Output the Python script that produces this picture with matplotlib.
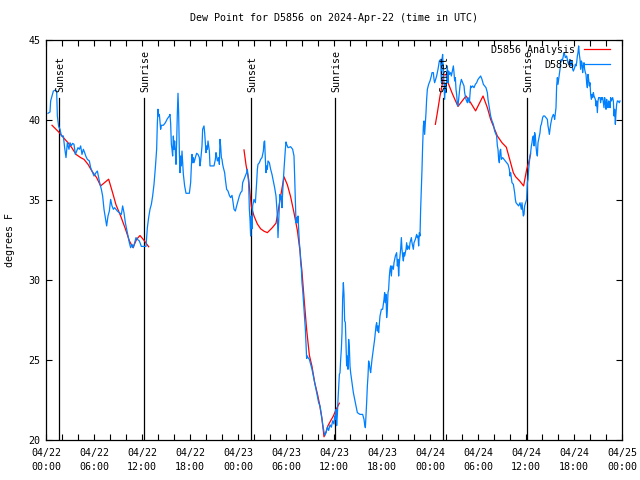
import numpy as np
import matplotlib
matplotlib.use("Agg")
import matplotlib.pyplot as plt

# hours since 2024-04-22 00:00 UTC, dew point in degrees F
obs_hours = [
    0.25, 0.5, 0.58, 0.92, 1.21, 1.33, 1.42, 1.58, 1.75, 1.92, 2.17, 2.33, 2.5, 2.67, 2.87,
    3.0, 3.17, 3.33, 3.5, 3.67, 3.83, 4.0, 4.17, 4.33, 4.5, 4.67, 4.83, 5.0, 5.17, 5.42,
    5.58, 5.83, 6.0, 6.25, 6.42, 6.58, 6.75, 6.92, 7.08, 7.25, 7.42, 7.58, 7.75, 7.92, 8.08,
    8.25, 8.42, 8.58, 8.75, 8.92, 9.17, 9.42, 9.58, 9.75, 9.92, 10.08, 10.25, 10.42, 10.58,
    10.75, 10.92, 11.08, 11.25, 11.42, 11.67, 11.92, 12.17, 12.5, 12.67,
    12.83, 13.0, 13.17, 13.33, 13.5, 13.67, 13.83, 13.92, 14.0, 14.08, 14.17, 14.33, 14.42,
    14.67, 14.92, 15.17, 15.42, 15.5, 15.58, 15.67, 15.75, 15.83, 15.92, 16.0, 16.08, 16.17,
    16.25, 16.33, 16.42, 16.5, 16.58, 16.67, 16.75, 16.83, 16.92, 17.0, 17.08, 17.17, 17.33,
    17.5, 17.92, 18.08, 18.17, 18.25, 18.33, 18.42, 18.5, 18.67, 18.83, 19.0, 19.17, 19.25,
    19.33, 19.42, 19.5, 19.58, 19.75, 19.83, 19.92, 20.0, 20.08, 20.17, 20.25, 20.33, 20.42,
    20.5, 21.0, 21.17, 21.25, 21.33, 21.42, 21.58, 21.67, 21.75, 21.83, 21.92, 22.0, 22.08,
    22.17, 22.33, 22.42, 22.58, 22.75, 22.92, 23.08, 23.25, 23.33, 23.5, 23.67, 23.83, 24.0,
    24.17, 24.33, 24.5, 24.58, 24.75,
    24.92, 25.08, 25.17, 25.25, 25.33, 25.42, 25.5, 25.58, 25.67, 25.75, 25.83, 26.0, 26.17,
    26.33, 26.42, 26.5, 26.67, 26.83, 27.0, 27.17, 27.25, 27.33, 27.42, 27.5, 27.58, 27.67,
    27.75, 27.92, 28.08, 28.25, 28.42, 28.58, 28.75, 28.92, 29.0, 29.08, 29.17, 29.25, 29.33,
    29.42, 29.5, 29.58, 29.75, 29.92, 30.0, 30.08, 30.25, 30.58, 30.83, 31.0, 31.08, 31.17,
    31.25, 31.33, 31.42, 31.5, 31.58, 31.67, 31.75, 31.83, 31.92, 32.0, 32.08, 32.17, 32.25,
    32.33, 32.42, 32.5, 32.58, 32.67, 32.75, 32.92, 33.08, 33.25, 33.42, 33.58, 33.75, 33.92,
    34.08, 34.25, 34.42, 34.58, 34.75, 34.87, 35.0, 35.17, 35.33, 35.5, 35.67, 35.83, 36.0,
    36.08, 36.17, 36.25, 36.33, 36.42, 36.5, 36.58, 36.67, 36.75, 36.83, 36.92, 37.0, 37.08,
    37.17, 37.25, 37.33, 37.42, 37.5, 37.58, 37.67, 37.75, 37.83, 37.92, 38.0, 38.08, 38.25,
    38.42, 38.58, 38.75, 38.92, 39.25, 39.58, 39.75, 39.83, 39.92, 40.0, 40.08, 40.17, 40.25,
    40.33, 40.42, 40.5, 40.58, 40.67, 40.75, 40.92, 41.08, 41.17, 41.25, 41.33, 41.42, 41.5,
    41.58, 41.75, 41.92, 42.08, 42.25, 42.33, 42.42, 42.5, 42.58, 42.67, 42.75, 42.83, 42.92,
    43.0, 43.08, 43.17, 43.25, 43.42, 43.5, 43.67, 43.83, 43.92, 44.0, 44.08, 44.17, 44.25,
    44.33, 44.42, 44.5, 44.58, 44.67, 44.75, 44.83, 45.0, 45.08, 45.17, 45.25, 45.42, 45.5,
    45.67, 45.75, 45.92, 46.0, 46.17, 46.33, 46.42, 46.5, 46.58, 46.67, 46.75, 46.83, 46.92,
    47.0, 47.08, 47.17, 47.25, 47.33, 47.42, 47.5, 47.58, 47.67, 47.83, 48.0, 48.17, 48.25,
    48.42, 48.5, 48.58, 48.83, 49.0, 49.17, 49.33, 49.42, 49.5, 49.58, 49.67, 49.75, 49.83,
    49.92, 50.0, 50.08, 50.17, 50.25, 50.33, 50.42, 50.58, 50.67, 50.83, 50.92, 51.0, 51.08,
    51.17, 51.25, 51.33, 51.42, 51.5, 51.58, 51.67, 51.75, 51.92, 52.08, 52.25, 52.33, 52.5,
    52.67, 52.75, 52.92, 53.08, 53.17, 53.33, 53.5, 53.67, 53.83, 54.0, 54.17, 54.33, 54.5,
    54.67, 54.83, 55.0, 55.17, 55.25, 55.42, 55.58, 55.75, 55.92, 56.08, 56.25, 56.33, 56.42,
    56.5, 56.58, 56.67, 56.75, 56.83, 56.92, 57.08, 57.25, 57.42, 57.58, 57.75, 57.92, 58.0,
    58.08, 58.25, 58.42, 58.58, 58.67, 58.75, 58.92, 59.08, 59.25, 59.33, 59.42, 59.5, 59.58,
    59.67, 59.75, 59.83, 60.0, 60.08, 60.17, 60.25, 60.33, 60.42, 60.5, 60.58, 60.67, 60.75,
    60.83, 60.92, 61.0, 61.08, 61.17, 61.25, 61.33, 61.42, 61.5, 61.58, 61.75, 61.83, 61.92,
    62.08, 62.17, 62.33, 62.5, 62.67, 62.75, 62.83, 62.92, 63.0, 63.08, 63.25, 63.33, 63.42,
    63.5, 63.58, 63.67, 63.75, 63.83, 63.92, 64.0, 64.08, 64.17, 64.25, 64.33, 64.42, 64.5,
    64.58, 64.67, 64.75, 64.83, 64.92, 65.08, 65.17, 65.25, 65.33, 65.42, 65.5, 65.58, 65.67,
    65.75, 65.83, 65.92, 66.0, 66.08, 66.17, 66.25, 66.33, 66.42, 66.5, 66.58, 66.67, 66.75,
    66.83, 66.92, 67.0, 67.08, 67.17, 67.25, 67.33, 67.42, 67.5, 67.58, 67.67, 67.75, 67.83,
    67.92, 68.0, 68.08, 68.17, 68.25, 68.33, 68.42, 68.5, 68.58, 68.67, 68.75, 68.83, 68.92,
    69.0, 69.08, 69.25, 69.33, 69.42, 69.5, 69.58, 69.67, 69.75, 69.83, 69.92, 70.0, 70.08,
    70.17, 70.25, 70.33, 70.42, 70.5, 70.58, 70.67, 70.83, 70.92, 71.0, 71.08, 71.17, 71.25,
    71.33, 71.42, 71.5, 71.67, 71.75,
]
obs_dewpt = [
    40.42, 40.5, 41.19, 41.81, 41.88, 41.81, 40.25, 39.6, 39.42, 39.0, 39.0, 38.27, 37.65, 38.58, 38.17,
    38.58, 38.4, 38.54, 38.48, 37.85, 38.06, 38.27, 38.17, 38.38, 37.85, 38.17, 37.96, 37.71, 37.54, 37.44,
    37.02, 36.71, 36.5, 36.71, 36.81, 36.4, 35.98, 35.67, 35.25, 34.42, 33.9, 33.38, 34.0, 34.31, 35.04,
    34.63, 34.42, 34.52, 34.42, 34.31, 34.2, 34.1, 34.63, 34.2, 33.58, 33.17, 32.75, 32.33, 32.02,
    32.23, 32.02, 32.33, 32.65, 32.54, 32.44, 32.1, 32.1, 32.1, 33.27,
    33.9, 34.42, 34.73, 35.25, 35.98, 37.02, 38.17, 39.83, 40.67, 40.25, 40.35, 39.42, 39.67,
    39.67, 39.83, 40.08, 40.25, 40.35, 39.79, 38.48, 38.17, 37.75, 39.0, 38.17, 38.69, 38.06,
    37.23, 38.58, 40.46, 41.67, 40.46, 37.96, 36.71, 37.75, 37.13, 38.06, 37.33, 36.6, 35.88,
    35.42, 35.42, 36.08, 37.13, 37.85, 37.33, 37.65, 37.33, 37.65, 37.92, 37.85, 37.65, 37.13,
    37.44, 37.96, 38.38, 39.42, 39.63, 39.21, 38.58, 37.96, 38.38, 38.17, 38.69, 38.38, 38.06,
    37.13, 37.13, 37.54, 37.96, 37.75, 37.44, 37.65, 37.23, 38.79, 38.38, 37.65, 37.54, 37.23,
    37.02, 36.71, 36.29, 35.67, 35.56, 35.29, 35.15, 35.29, 35.04, 34.42, 34.31, 34.63, 34.94,
    35.25, 35.46, 35.56, 36.08, 36.29,
    36.5, 36.71, 36.92, 36.5, 36.08, 34.42, 33.79, 32.75, 34.0, 33.2, 34.63, 35.04, 34.83,
    36.08, 36.92, 37.23, 37.33, 37.54, 37.65, 38.06, 38.63, 38.69, 37.54, 36.71, 37.13, 36.92,
    37.44, 37.33, 36.92, 36.6, 36.19, 35.77, 35.25, 34.0, 32.65, 33.58, 34.63, 35.35, 35.04,
    35.25, 34.52, 35.46, 36.92, 38.17, 38.63, 38.48, 38.27, 38.33, 38.17, 37.75, 36.5, 34.83,
    33.58, 33.9, 33.58, 34.0, 33.17, 32.33, 31.92, 31.08, 30.67, 29.83, 29.42, 28.79, 28.17,
    27.54, 26.92, 26.08, 25.1, 25.25, 25.15, 25.04, 24.73, 24.42, 24.0, 23.58, 23.17, 22.75,
    22.33, 22.13, 21.6, 21.0, 20.5, 20.3, 20.45, 20.8, 20.6, 20.95, 20.8, 21.2, 21.0,
    21.5, 21.3, 21.9, 20.9, 21.6, 22.5, 23.2, 24.1, 24.2, 25.0, 25.7, 26.7, 28.8,
    29.83, 29.1, 27.44, 27.35, 25.98, 24.63, 25.25, 24.42, 26.29, 25.77, 24.63, 24.21, 23.58,
    22.96, 22.54, 22.13, 21.71, 21.6, 21.6, 21.29, 20.98, 20.77, 21.5, 22.33, 23.38, 24.0,
    24.94, 24.73, 24.42, 24.21, 24.63, 25.04, 25.67, 26.29, 26.71, 27.13, 27.33, 26.81, 27.13,
    26.71, 27.75, 28.17, 28.17, 28.79, 29.21, 28.58, 29.1, 27.65, 28.17, 29.21, 29.42, 30.25,
    30.67, 30.88, 30.25, 30.88, 30.67, 31.08, 31.5, 31.71, 30.88, 31.29, 30.25, 31.08, 31.5,
    31.92, 32.65, 31.92, 31.5, 31.19, 31.71, 31.5, 31.92, 32.33, 31.92, 32.13, 31.92, 32.33,
    32.65, 32.33, 31.92, 32.33, 32.54, 32.85, 32.65, 32.75, 32.13, 32.96, 32.75, 34.42, 35.67,
    36.92, 38.38, 39.63, 39.94, 39.1, 39.83, 40.46, 41.29, 41.92, 42.23, 42.44, 42.75, 42.96,
    42.96, 42.54, 42.33, 42.75, 43.17, 43.69, 43.79, 42.33, 43.79, 44.1, 42.96, 42.33, 41.29,
    42.23, 41.71, 42.54, 43.38, 42.33, 43.06, 42.85, 42.96, 42.75, 43.17, 43.38, 42.96, 42.44,
    42.65, 41.92, 41.6, 40.98, 40.88, 41.29, 41.71, 42.13, 42.54, 42.33, 42.13, 41.71, 41.29,
    41.08, 41.4, 41.08, 42.13, 42.02, 42.13, 42.02, 42.23, 42.33, 42.54, 42.65, 42.75, 42.54,
    42.23, 42.13, 42.02, 41.71, 41.29, 40.77, 40.25, 39.94, 39.73, 39.31, 39.1, 39.0, 38.38,
    38.17, 37.54, 37.33, 38.06, 38.17, 37.54, 37.65, 37.54, 37.44, 37.33, 37.23, 36.92, 36.5,
    36.71, 36.08, 35.98, 35.46, 35.04, 34.83, 34.73, 34.63, 34.83, 34.63, 34.42, 34.83, 34.42,
    34.0, 34.1, 34.63, 34.9, 35.04, 36.08, 36.29, 36.92, 37.33, 37.75, 37.96, 38.38, 38.58,
    38.9, 39.0, 38.38, 39.21, 39.0, 38.38, 37.96, 37.75, 38.58, 38.79, 39.21, 39.63, 39.73,
    40.15, 40.25, 40.25, 40.15, 40.04, 39.63, 39.42, 39.1, 39.42, 39.73, 40.15, 40.25, 40.35,
    40.25, 40.04, 40.46, 40.77, 42.13, 42.65, 42.23, 42.54, 42.85, 43.17, 43.58, 43.79, 43.69,
    43.79, 44.0, 44.21, 44.1, 43.9, 44.0, 43.79, 43.58, 43.48, 43.69, 43.79, 43.38, 43.48,
    43.69, 43.17, 43.06, 43.17, 43.27, 43.48, 43.38, 43.58, 44.0, 44.21, 44.63, 44.1, 43.79,
    43.17, 43.69, 43.58, 42.96, 43.38, 43.58, 43.17, 42.96, 42.85, 42.33, 42.02, 42.85, 42.54,
    42.13, 42.33, 41.6, 41.29, 41.6, 41.4, 41.71, 41.5, 41.4, 41.29, 40.88, 41.19, 40.46,
    41.19, 41.4, 41.4, 41.08, 41.4, 41.29, 41.4, 41.08, 40.77, 41.4, 41.08, 40.67, 41.29,
    40.98, 40.77, 41.19, 41.08, 40.77, 41.4, 41.19, 41.4, 41.19, 40.25, 40.67, 39.73, 40.46,
    40.98, 41.19, 41.19, 41.08, 41.19,
]

# analysis series, three separate runs
ana1_hours = [0.75, 1.17, 1.67, 2.17, 2.75, 3.25, 3.75, 4.33, 4.75, 5.25, 5.75, 6.33, 6.83,
              7.83, 8.33, 8.75, 9.33, 9.92, 10.42, 10.87, 11.33, 11.75, 12.25, 12.83]
ana1_dewpt = [39.67, 39.46, 39.21, 38.9, 38.58, 38.25, 37.85, 37.65, 37.54, 37.23, 36.8, 36.4, 35.88,
              36.3, 35.45, 34.7, 34.0, 33.2, 32.45, 32.02, 32.55, 32.78, 32.48, 32.08]
ana2_hours = [24.75, 25.0, 25.33, 25.5, 25.67, 26.0, 26.42, 26.83, 27.25, 27.67, 28.25, 28.75,
              29.08, 29.42, 29.75, 30.17, 30.58, 31.0, 31.42, 31.75, 32.0, 32.25, 32.58, 32.92,
              33.25, 33.58, 33.92, 34.17, 34.5, 34.75, 35.0, 35.25, 35.58, 35.92, 36.25, 36.67]
ana2_dewpt = [38.13, 37.2, 36.3, 35.4, 34.6, 34.0, 33.5, 33.2, 33.05, 32.96, 33.25, 33.55,
              34.5, 35.5, 36.45, 35.95, 35.2, 34.2, 33.1, 31.8, 30.5, 28.9, 26.9, 25.3,
              24.6, 23.6, 22.9, 22.3, 21.3, 20.2, 20.5, 20.9, 21.2, 21.5, 21.9, 22.3]
ana3_hours = [48.67, 48.92, 49.25, 49.5, 49.67, 50.0, 50.25, 50.83, 51.5, 52.5, 53.08, 53.7,
              54.63, 55.17, 55.58, 56.08, 56.42, 57.0, 57.54, 57.96, 58.42, 58.71, 59.21, 59.7,
              60.08, 60.33, 60.58]
ana3_dewpt = [39.73, 40.46, 41.5, 42.13, 42.8, 42.85, 42.33, 41.6, 40.85, 41.5, 41.08, 40.57,
              41.5, 40.77, 40.04, 39.42, 39.0, 38.58, 38.3, 37.54, 36.7, 36.45, 36.19, 35.88,
              36.9, 37.33, 37.88]

sun_hours = [1.63, 12.22, 25.63, 36.13, 49.63, 60.13]
sun_labels = ["Sunset", "Sunrise", "Sunset", "Sunrise", "Sunset", "Sunrise"]

tick_hours = [0, 6, 12, 18, 24, 30, 36, 42, 48, 54, 60, 66, 72]
tick_labels = ["04/22\n00:00", "04/22\n06:00", "04/22\n12:00", "04/22\n18:00",
               "04/23\n00:00", "04/23\n06:00", "04/23\n12:00", "04/23\n18:00",
               "04/24\n00:00", "04/24\n06:00", "04/24\n12:00", "04/24\n18:00",
               "04/25\n00:00"]

plt.rcParams['font.family'] = ['DejaVu Sans Mono']
FS = 7.2
lw = 0.9

fig = plt.figure(figsize=(6.4, 4.8), dpi=100)
ax = fig.add_axes([46 / 640, 40 / 480, 576 / 640, 400 / 480])

for h, lab in zip(sun_hours, sun_labels):
    ax.axvline(h, ymin=0, ymax=0.855, color='black', lw=lw)
    ax.text(h + 0.2, 41.75, lab, rotation=90, ha='center', va='bottom', fontsize=FS)

ax.plot(ana1_hours, ana1_dewpt, color='#ff0000', lw=lw, label='D5856 Analysis')
ax.plot(ana2_hours, ana2_dewpt, color='#ff0000', lw=lw)
ax.plot(ana3_hours, ana3_dewpt, color='#ff0000', lw=lw)
ax.plot(obs_hours, obs_dewpt, color='#0080ff', lw=lw, label='D5856')

ax.set_xlim(0, 72)
ax.set_ylim(20, 45)
ax.set_xticks(tick_hours)
ax.set_xticklabels(tick_labels, linespacing=1.5)
ax.set_xticks(np.arange(0, 73, 2), minor=True)
ax.set_yticks([20, 25, 30, 35, 40, 45])
ax.tick_params(which='both', direction='in', top=True, right=True, labelsize=FS,
               length=4, width=0.8)
ax.tick_params(axis='x', pad=6)
ax.tick_params(axis='y', pad=4)
for s in ax.spines.values():
    s.set_linewidth(0.9)

ax.set_ylabel('degrees F', fontsize=FS)
ax.yaxis.set_label_coords(-0.053, 0.5)
ax.set_title('Dew Point for D5856 on 2024-Apr-22 (time in UTC)', fontsize=FS, pad=14)

ax.legend(loc='upper right', bbox_to_anchor=(0.989, 1.003), frameon=False, fontsize=FS,
          markerfirst=False, handlelength=2.6, handletextpad=0.9, labelspacing=0.5,
          borderaxespad=0.2)

fig.savefig('out.png', dpi=100)
